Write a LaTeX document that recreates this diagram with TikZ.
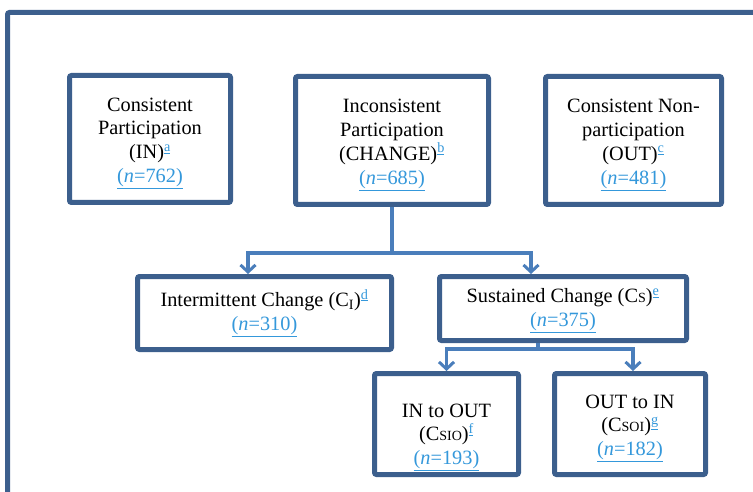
\documentclass[tikz,border=0pt]{standalone}
\usepackage{fontspec}
\setmainfont{Liberation Serif}
\usetikzlibrary{arrows.meta}
\definecolor{boxblue}{RGB}{60,95,141}
\definecolor{lineblue}{RGB}{74,126,187}
\definecolor{linkblue}{RGB}{52,152,219}
\newcommand{\cnt}[1]{\textcolor{linkblue}{\underline{(\textit{n}=#1)}}}
\newcommand{\fnref}[1]{\textsuperscript{\textcolor{linkblue}{\underline{#1}}}}
\newcommand{\subsc}[1]{{\fontsize{14}{14}\selectfont #1}}
\newcommand{\pad}[1]{\rule{0pt}{#1}}

\begin{document}
\begin{tikzpicture}[x=1pt,y=-1pt,font=\fontsize{20.3}{23.8}\selectfont]
        \tikzstyle{group}=[rectangle, line width=5pt, draw=boxblue, fill=white, rounded corners=2pt, align=center, inner sep=0pt]
        \tikzstyle{link}=[line width=3.5pt, draw=lineblue, -{Straight Barb[length=7pt,width=15pt,line width=3pt]}]
        \clip (0,0) rectangle (753,492);
        \draw[line width=5pt, draw=boxblue, rounded corners=2pt] (7.5,12.5) rectangle (790,540);
        % top row
        \node [group, minimum width=161pt, minimum height=127pt] (in) at (150,139)
          {\pad{22pt}Consistent\\Participation\\(IN)\fnref{a}\\\cnt{762}};
        \node [group, minimum width=193pt, minimum height=128pt] (chg) at (392,140.5)
          {\pad{22pt}Inconsistent\\Participation\\(CHANGE)\fnref{b}\\\cnt{685}};
        \node [group, minimum width=176pt, minimum height=128pt] (out) at (633.5,140.5)
          {\pad{22pt}Consistent Non-\\participation\\(OUT)\fnref{c}\\\cnt{481}};
        % change types
        \node [group, minimum width=254pt, minimum height=73pt] (int) at (264.5,313)
          {Intermittent Change (C\textsubscript{I})\fnref{d}\\\cnt{310}};
        \node [group, minimum width=247pt, minimum height=64pt] (sus) at (563,308.5)
          {\pad{19pt}Sustained Change (C\subsc{S})\fnref{e}\\\cnt{375}};
        % sustained change directions
        \node [group, minimum width=144pt, minimum height=101pt] (io) at (446.5,424)
          {\pad{40pt}IN to OUT\\(C\subsc{SIO})\fnref{f}\\\cnt{193}};
        \node [group, minimum width=151pt, minimum height=101pt] (oi) at (630,424)
          {\pad{22pt}OUT to IN\\(C\subsc{SOI})\fnref{g}\\\cnt{182}};
        \draw[link] (chg.south) -- ++(0,46) coordinate (fork) -| ([xshift=-16.5pt]int.north);
        \draw[link] (fork) -| ([xshift=-32pt]sus.north);
        \draw[link] ([xshift=-25pt]sus.south) -- ++(0,6) coordinate (subfork) -| (io.north);
        \draw[link] (subfork) -| ([xshift=3pt]oi.north);
\end{tikzpicture}
\end{document}
